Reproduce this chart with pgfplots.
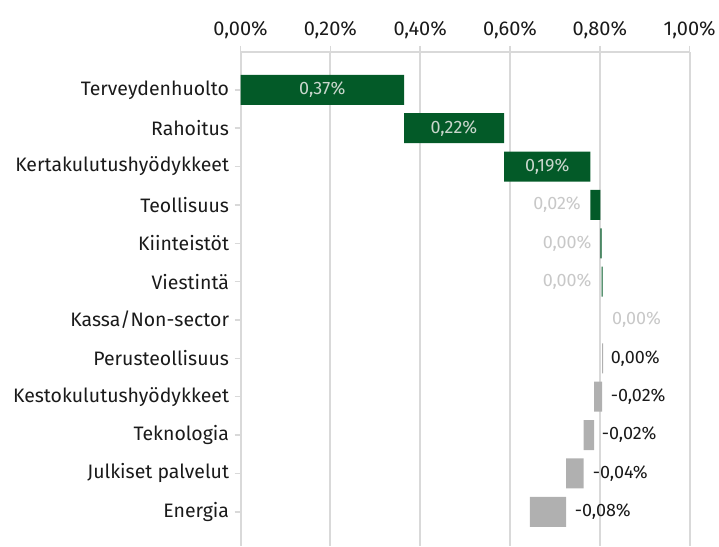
\documentclass[border=0pt]{standalone}
\usepackage{fontspec}
\setmainfont{Fira Sans}
\usepackage{pgfplots}
\pgfplotsset{compat=1.18}
\usepackage{pgfplotstable}

\definecolor{barGreen}{HTML}{035A28}
\definecolor{barGray}{HTML}{B0B0B0}
\definecolor{gridGray}{HTML}{D9D9D9}
\definecolor{lblLight}{HTML}{C8C8C8}
\definecolor{lblInside}{HTML}{C9D6CC}
\definecolor{txtCol}{HTML}{1A1A1A}

\tikzset{lbl/.style={font=\fontsize{18}{21}\selectfont, inner sep=0pt}}

% waterfall: invisible base + green (up) + gray (down)
\pgfplotstableread{
y   base  pos   neg
0   0     0.364 0
-1  0.364 0.223 0
-2  0.587 0.192 0
-3  0.779 0.022 0
-4  0.801 0.003 0
-5  0.804 0.002 0
-6  0.806 0     0
-7  0.805 0     0.002
-8  0.787 0     0.018
-9  0.764 0     0.023
-10 0.725 0     0.039
-11 0.644 0     0.081
}\wfdata

\begin{document}
\begin{tikzpicture}
\begin{axis}[
    scale only axis,
    width=450pt, height=495pt,
    xmin=0, xmax=1,
    ymin=-11.89, ymax=0.99,
    xbar stacked, bar width=30pt,
    axis x line*=top, axis y line*=left,
    axis line style={gridGray, line width=1.5pt},
    xtick={0,0.2,0.4,0.6,0.8,1},
    xticklabels={{0,00\%},{0,20\%},{0,40\%},{0,60\%},{0,80\%},{1,00\%}},
    ytick={-11,-10,-9,-8,-7,-6,-5,-4,-3,-2,-1,0},
    yticklabels={Energia,Julkiset palvelut,Teknologia,Kestokulutushyödykkeet,
        Perusteollisuus,Kassa/Non-sector,Viestintä,Kiinteistöt,Teollisuus,
        Kertakulutushyödykkeet,Rahoitus,Terveydenhuolto},
    xmajorgrids,
    grid style={gridGray, line width=2pt},
    tick style={gridGray, line width=1.5pt},
    major tick length=6pt, tick align=outside,
    xticklabel style={font=\fontsize{20}{24}\selectfont, text=txtCol, yshift=4pt},
    yticklabel style={font=\fontsize{19.5}{23}\selectfont, text=txtCol, xshift=-2pt},
    /pgf/number format/assume math mode=true,
    clip=false,
]
\addplot[draw=none, fill=none] table[x=base, y=y] {\wfdata};
\addplot[draw=none, fill=barGreen] table[x=pos, y=y] {\wfdata};
\addplot[draw=none, fill=barGray] table[x=neg, y=y] {\wfdata};

% fixes the page to the reference's frame
\path (rel axis cs:-0.5356,0) rectangle (rel axis cs:1.0622,1.105);

% label anchors, the labels themselves go on top after the axis
\coordinate (l0) at (axis cs:0.182,0);
\coordinate (l1) at (axis cs:0.475,-1);
\coordinate (l2) at (axis cs:0.683,-2);
\coordinate (l3) at (axis cs:0.758,-3);
\coordinate (l4) at (axis cs:0.782,-4);
\coordinate (l5) at (axis cs:0.782,-5);
\coordinate (l6) at (axis cs:0.827,-6);
\coordinate (l7) at (axis cs:0.824,-7);
\coordinate (l8) at (axis cs:0.824,-8);
\coordinate (l9) at (axis cs:0.804,-9);
\coordinate (l10) at (axis cs:0.784,-10);
\coordinate (l11) at (axis cs:0.744,-11);
\end{axis}
\node[lbl, text=lblInside] at (l0) {0,37\%};
\node[lbl, text=lblInside] at (l1) {0,22\%};
\node[lbl, text=lblInside] at (l2) {0,19\%};
\node[lbl, text=lblLight, anchor=east] at (l3) {0,02\%};
\node[lbl, text=lblLight, anchor=east] at (l4) {0,00\%};
\node[lbl, text=lblLight, anchor=east] at (l5) {0,00\%};
\node[lbl, text=lblLight, anchor=west] at (l6) {0,00\%};
\node[lbl, text=txtCol, anchor=west] at (l7) {0,00\%};
\node[lbl, text=txtCol, anchor=west] at (l8) {-0,02\%};
\node[lbl, text=txtCol, anchor=west] at (l9) {-0,02\%};
\node[lbl, text=txtCol, anchor=west] at (l10) {-0,04\%};
\node[lbl, text=txtCol, anchor=west] at (l11) {-0,08\%};
\end{tikzpicture}
\end{document}
